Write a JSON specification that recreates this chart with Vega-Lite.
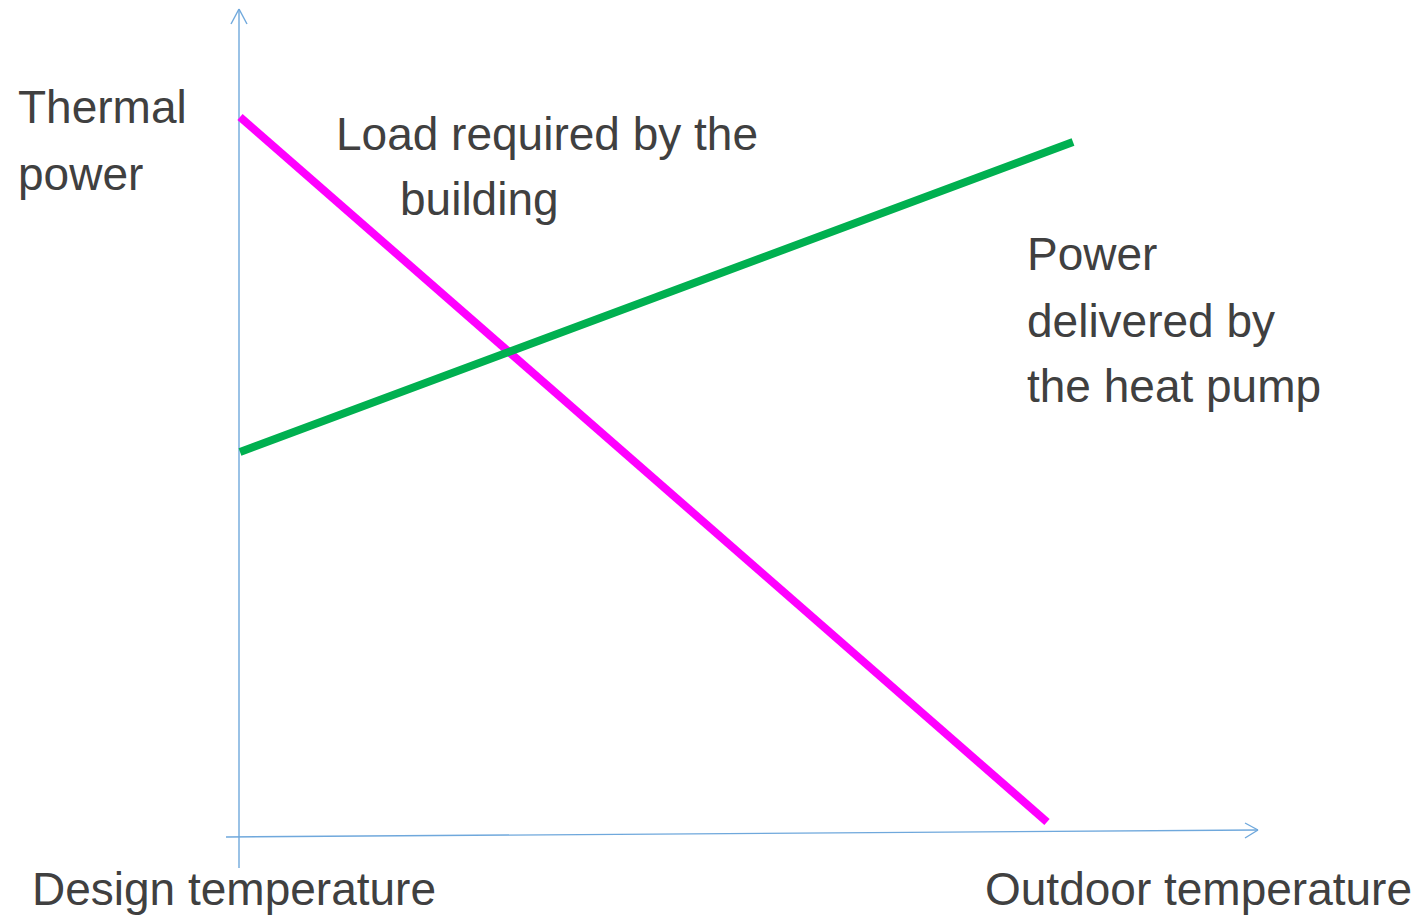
{
  "$schema": "https://vega.github.io/schema/vega-lite/v6.json",
  "width": 1425,
  "height": 922,
  "autosize": {"type": "none"},
  "padding": 0,
  "background": "white",
  "config": {"view": {"stroke": null}},
  "datasets": {
    "segments": [
      {"part": "y axis", "x": 0, "y": -32, "x2": 0, "y2": 827},
      {"part": "y arrow", "x": -8, "y": 812, "x2": 0, "y2": 827},
      {"part": "y arrow", "x": 8, "y": 812, "x2": 0, "y2": 827},
      {"part": "x axis", "x": -13, "y": -1, "x2": 1019, "y2": 6},
      {"part": "x arrow", "x": 1006, "y": 13, "x2": 1019, "y2": 6},
      {"part": "x arrow", "x": 1006, "y": -2, "x2": 1019, "y2": 6}
    ],
    "curves": [
      {"series": "Load required by the building", "x": 1, "y": 719, "x2": 808, "y2": 14},
      {"series": "Power delivered by the heat pump", "x": 1, "y": 384, "x2": 834, "y2": 694}
    ],
    "labels": [
      {"x": -221, "y": 713, "text": "Thermal"},
      {"x": -221, "y": 646, "text": "power"},
      {"x": 97, "y": 686, "text": "Load required by the"},
      {"x": 161, "y": 621, "text": "building"},
      {"x": 788, "y": 566, "text": "Power"},
      {"x": 788, "y": 499, "text": "delivered by"},
      {"x": 788, "y": 434, "text": "the heat pump"},
      {"x": -207, "y": -69, "text": "Design temperature"},
      {"x": 746, "y": -69, "text": "Outdoor temperature"}
    ]
  },
  "layer": [
    {
      "data": {"name": "segments"},
      "mark": {"type": "rule", "color": "#6FA8DC", "strokeWidth": 1.4},
      "encoding": {
        "x": {"field": "x", "type": "quantitative", "scale": {"domain": [-239, 1186], "nice": false, "zero": false}, "axis": null},
        "y": {"field": "y", "type": "quantitative", "scale": {"domain": [-86, 836], "nice": false, "zero": false}, "axis": null},
        "x2": {"field": "x2"},
        "y2": {"field": "y2"}
      }
    },
    {
      "data": {"name": "curves"},
      "mark": {"type": "rule", "strokeWidth": 8, "strokeCap": "butt"},
      "encoding": {
        "x": {"field": "x", "type": "quantitative", "scale": {"domain": [-239, 1186], "nice": false, "zero": false}, "axis": null},
        "y": {"field": "y", "type": "quantitative", "scale": {"domain": [-86, 836], "nice": false, "zero": false}, "axis": null},
        "x2": {"field": "x2"},
        "y2": {"field": "y2"},
        "color": {
          "field": "series",
          "type": "nominal",
          "scale": {"domain": ["Load required by the building", "Power delivered by the heat pump"], "range": ["#FF00FF", "#00B050"]},
          "legend": null
        }
      }
    },
    {
      "data": {"name": "labels"},
      "mark": {"type": "text", "align": "left", "baseline": "alphabetic", "font": "Liberation Sans", "fontSize": 46, "color": "#404040"},
      "encoding": {
        "x": {"field": "x", "type": "quantitative", "scale": {"domain": [-239, 1186], "nice": false, "zero": false}, "axis": null},
        "y": {"field": "y", "type": "quantitative", "scale": {"domain": [-86, 836], "nice": false, "zero": false}, "axis": null},
        "text": {"field": "text"}
      }
    }
  ]
}
